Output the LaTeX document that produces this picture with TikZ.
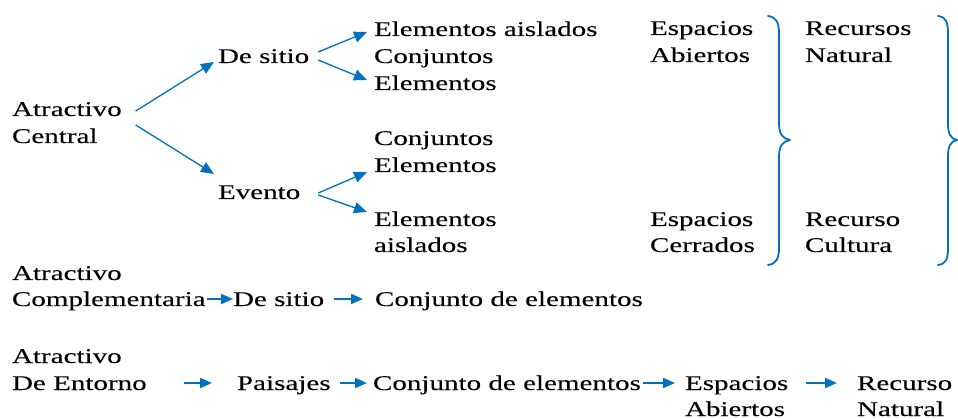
\documentclass[tikz,border=0pt]{standalone}
\usepackage{fontspec}
\setmainfont{Liberation Serif}
\newfontfamily\topf{Liberation Serif}[FakeStretch=1.39, FakeBold=0.12]
\usetikzlibrary{arrows.meta}
\definecolor{arrblue}{RGB}{0,112,192}
\tikzset{
  tt/.style={inner sep=0pt, outer sep=0pt, anchor=base west, font=\topf\fontsize{20.9}{27}\selectfont},
  bt/.style={tt},
  tarr/.style={draw=arrblue, line width=1.3pt, -{Triangle[length=13pt,width=11pt]}, fill=arrblue},
  barr/.style={draw=arrblue, line width=2pt, -{Triangle[length=12pt,width=10pt]}, fill=arrblue},
  bracestyle/.style={draw=arrblue, line width=1.8pt, line cap=round, line join=round}
}
\begin{document}
\begin{tikzpicture}[x=1pt, y=-1pt]
\useasboundingbox (0,0) rectangle (958,419);
% top block
\node[tt] (ac1) at (12,116) {Atractivo};
\node[tt] (ac2) at (12,143) {Central};
\node[tt] (ds) at (218,63) {De sitio};
\node[tt] (ev) at (218,199) {Evento};
\node[tt] (e1) at (374,36) {Elementos aislados};
\node[tt] (c1) at (374,63) {Conjuntos};
\node[tt] (e2) at (374,90) {Elementos};
\node[tt] (c2) at (374,145) {Conjuntos};
\node[tt] (e3) at (374,172) {Elementos};
\node[tt] (e4) at (374,226) {Elementos};
\node[tt] (ai) at (374,252) {aislados};
\node[tt] (ea1) at (650,35) {Espacios};
\node[tt] (ab1) at (650,62) {Abiertos};
\node[tt] (ec1) at (650,226) {Espacios};
\node[tt] (ce) at (650,252) {Cerrados};
\node[tt] (rn1) at (805,35) {Recursos};
\node[tt] (na1) at (805,62) {Natural};
\node[tt] (rc1) at (805,226) {Recurso};
\node[tt] (cu) at (805,252) {Cultura};
% top arrows
\draw[tarr] ([shift={(14,-5)}]ac1.base east) -- ([shift={(-4,-1)}]ds.base west);
\draw[tarr] ([shift={(14,9)}]ac1.base east) -- ([shift={(-4,-25)}]ev.base west);
\draw[tarr] ([shift={(9,-11)}]ds.base east) -- ([shift={(-7,-4)}]e1.base west);
\draw[tarr] ([shift={(9,-3)}]ds.base east) -- ([shift={(-7,-10)}]e2.base west);
\draw[tarr] ([shift={(18,-6)}]ev.base east) -- ([shift={(-7,0)}]e3.base west);
\draw[tarr] ([shift={(18,-4)}]ev.base east) -- ([shift={(-7,-14)}]e4.base west);
% braces
\draw[bracestyle] (768,16) .. controls (776,17) and (779,22) .. (779,34) -- (779,124)
  .. controls (779,134) and (783,139) .. (790,140)
  .. controls (783,141) and (779,146) .. (779,156) -- (779,248)
  .. controls (779,259) and (776,264) .. (768,265);
\draw[bracestyle] (938,16) .. controls (946,17) and (948,22) .. (948,34) -- (948,124)
  .. controls (948,134) and (951,139) .. (957,140)
  .. controls (951,141) and (948,146) .. (948,156) -- (948,248)
  .. controls (948,259) and (946,264) .. (938,265);
% bottom block
\node[bt] (b1) at (12,280) {Atractivo};
\node[bt] (b2) at (12,306) {Complementaria};
\node[bt] (b3) at (233,306) {De sitio};
\node[bt] (b4) at (375,306) {Conjunto de elementos};
\draw[barr] ([shift={(1,-7)}]b2.base east) -- ([shift={(0,-7)}]b3.base west);
\draw[barr] ([shift={(10,-7)}]b3.base east) -- ([shift={(-12,-7)}]b4.base west);
\node[bt] (d1) at (12,363) {Atractivo};
\node[bt] (d2) at (12,390) {De Entorno};
\node[bt] (d3) at (237,390) {Paisajes};
\node[bt] (d4) at (373,390) {Conjunto de elementos};
\node[bt] (d5) at (685,390) {Espacios};
\node[bt] (d6) at (685,416) {Abiertos};
\node[bt] (d7) at (857,390) {Recurso};
\node[bt] (d8) at (857,416) {Natural};
\draw[barr] ([shift={(37,-7)}]d2.base east) -- ([shift={(-25,-7)}]d3.base west);
\draw[barr] ([shift={(9,-7)}]d3.base east) -- ([shift={(-6,-7)}]d4.base west);
\draw[barr] ([shift={(2,-7)}]d4.base east) -- ([shift={(-10,-7)}]d5.base west);
\draw[barr] ([shift={(18,-7)}]d5.base east) -- ([shift={(-20,-7)}]d7.base west);
\end{tikzpicture}
\end{document}
